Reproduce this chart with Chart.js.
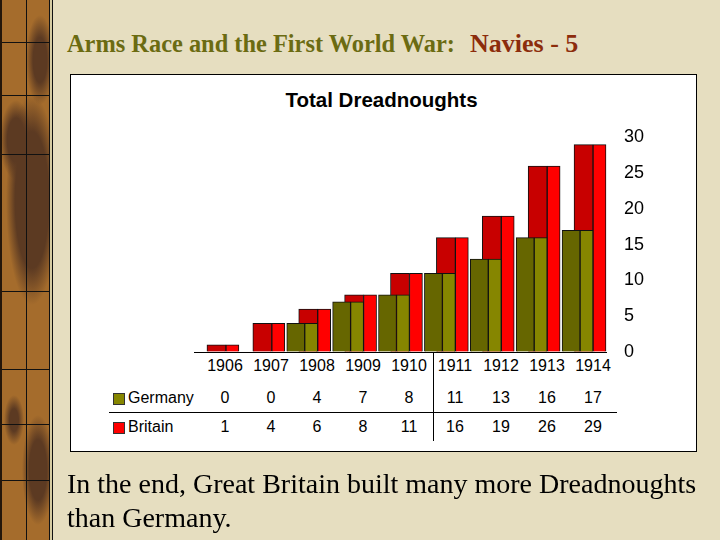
<!DOCTYPE html>
<html>
<head>
<meta charset="utf-8">
<script src="https://cdn.jsdelivr.net/npm/chart.js@4.4.1/dist/chart.umd.min.js"></script>
<style>
  body { margin: 0; }
  #page { position: relative; width: 720px; height: 540px; background: #e6dec0; overflow: hidden; }
  #strip { position: absolute; left: 0; top: 0; width: 49px; height: 540px; background-color: #a56c2c;
           box-shadow: 1px 0 0 #111, 3px 0 0 #d6cca2, 4px 0 0 #111; border-left: 2px solid #24160a; box-sizing: border-box; }
  #title { position: absolute; left: 67px; top: 30px; font-family: "Liberation Serif", serif; font-weight: bold;
           font-size: 24.4px; color: #6b6b12; white-space: nowrap; line-height: 28px; }
  #title span { font-size: 26px; color: #8c2c0c; margin-left: 15px; }
  #box { position: absolute; left: 70px; top: 74px; width: 625px; height: 376px; background: #fff; border: 1px solid #000; }
  #chartTitle { position: absolute; left: 70px; width: 623px; top: 88px; text-align: center; font: bold 20.5px "Liberation Sans", Arial, sans-serif; line-height: 24px; }
  .cell { position: absolute; width: 46px; text-align: center; font-family: "Liberation Sans", Arial, sans-serif; color: #000; line-height: 20px; }
  .name { position: absolute; font: 16px "Liberation Sans", Arial, sans-serif; line-height: 20px; }
  .swatch { position: absolute; width: 10px; height: 10px; border: 1px solid #333; }
  .rule { position: absolute; background: #000; }
  #chart { position: absolute; left: 0; top: 0; }
  #caption { position: absolute; left: 67px; top: 467px; font-family: "Liberation Serif", serif; font-size: 28px; line-height: 34px; color: #000; }
</style>
</head>
<body>
<div id="page">
  <div id="strip"></div>
  <div id="title">Arms Race and the First World War:<span>Navies - 5</span></div>
  <div id="box"></div>
  <div id="chartTitle">Total Dreadnoughts</div>
  <div id="table"></div>
  <canvas id="chart" width="720" height="540"></canvas>
  <div id="caption">In the end, Great Britain built many more Dreadnoughts<br>than Germany.</div>
</div>
<script>
const years = ['1906', '1907', '1908', '1909', '1910', '1911', '1912', '1913', '1914'];
const germany = [0, 0, 4, 7, 8, 11, 13, 16, 17];
const britain = [1, 4, 6, 8, 11, 16, 19, 26, 29];
const yTicks = [0, 5, 10, 15, 20, 25, 30];

const gDark = '#666600';
const gLight = '#868600';
const bDark = '#c80000';
const bBright = '#ff0000';

// notebook strip on the left
const stripLines = [42, 95, 154, 291, 369, 424, 480];
var layers = ['linear-gradient(#111,#111) 24px 0 / 1px 100% no-repeat'];
stripLines.forEach(function (y) {
    layers.push('linear-gradient(#111,#111) 0 ' + y + 'px / 100% 1px no-repeat');
});
layers.push('radial-gradient(ellipse 26px 105px at 30px 200px, #5c3a22 65%, rgba(92,58,34,0) 100%)');
layers.push('radial-gradient(ellipse 16px 40px at 14px 140px, #5c3a22 55%, rgba(92,58,34,0) 100%)');
layers.push('radial-gradient(ellipse 14px 45px at 38px 60px, #5c3a22 50%, rgba(92,58,34,0) 100%)');
layers.push('radial-gradient(ellipse 16px 55px at 36px 470px, #5c3a22 55%, rgba(92,58,34,0) 100%)');
layers.push('radial-gradient(ellipse 10px 25px at 12px 420px, #5c3a22 45%, rgba(92,58,34,0) 100%)');
document.getElementById('strip').style.background = layers.join(',') + ', #a56c2c';

// data table under the plot
const table = document.getElementById('table');
const colX = 225, colStep = 46;
function addCell(text, cx, cy, size) {
    var d = document.createElement('div');
    d.className = 'cell';
    d.style.left = (cx - 23) + 'px';
    d.style.top = (cy - 10) + 'px';
    d.style.fontSize = size + 'px';
    d.textContent = text;
    table.appendChild(d);
}
years.forEach(function (y, i) {
    addCell(y, colX + colStep * i, 366, 16);
    addCell(germany[i], colX + colStep * i, 398, 16);
    addCell(britain[i], colX + colStep * i, 427, 16);
});
[['Germany', gLight, 398], ['Britain', bBright, 427]].forEach(function (r) {
    var sw = document.createElement('div');
    sw.className = 'swatch';
    sw.style.left = '113px';
    sw.style.top = (r[2] - 5) + 'px';
    sw.style.background = r[1];
    table.appendChild(sw);
    var n = document.createElement('div');
    n.className = 'name';
    n.style.left = '128px';
    n.style.top = (r[2] - 10) + 'px';
    n.textContent = r[0];
    table.appendChild(n);
});
function addRule(l, t, w, h) {
    var d = document.createElement('div');
    d.className = 'rule';
    d.style.left = l + 'px'; d.style.top = t + 'px';
    d.style.width = w + 'px'; d.style.height = h + 'px';
    table.appendChild(d);
}
addRule(109, 412, 508, 1);
addRule(433, 352, 1, 89);

// bars: each country is a dark face and a light face, Britain set behind Germany
const unit = 46;
function faces(values, offsetPx) {
    return values.map(function (v, i) { return { x: i + offsetPx / unit, y: v }; });
}
function face(label, values, offsetPx, width, color) {
    return {
        label: label,
        data: faces(values, offsetPx),
        backgroundColor: color,
        borderColor: '#111',
        borderWidth: 1,
        barThickness: width,
        grouped: false
    };
}

new Chart(document.getElementById('chart'), {
    type: 'bar',
    data: {
        datasets: [
            face('Germany', germany, 9, 18, gDark),
            face('Germany', germany, 24.5, 13, gLight),
            face('Britain', britain, 21.5, 19, bDark),
            face('Britain', britain, 37.5, 13, bBright)
        ]
    },
    options: {
        responsive: false,
        animation: false,
        layout: {
            padding: { left: 194, top: 137.5, right: 59, bottom: 188 }
        },
        scales: {
            x: {
                type: 'linear',
                display: false,
                offset: false,
                min: -1 / unit,
                max: 413 / unit
            },
            y: {
                position: 'right',
                min: 0,
                max: 30,
                afterBuildTicks: function (axis) {
                    axis.ticks = yTicks.map(function (v) { return { value: v }; });
                },
                border: { display: false },
                grid: {
                    drawTicks: false,
                    color: function (ctx) { return ctx.tick && ctx.tick.value === 0 ? '#000' : 'rgba(0,0,0,0)'; }
                },
                ticks: {
                    padding: 17,
                    color: '#000',
                    font: { family: '"Liberation Sans", Arial, sans-serif', size: 18 }
                }
            }
        },
        plugins: {
            legend: { display: false },
            tooltip: { enabled: false }
        }
    }
});
</script>
</body>
</html>
